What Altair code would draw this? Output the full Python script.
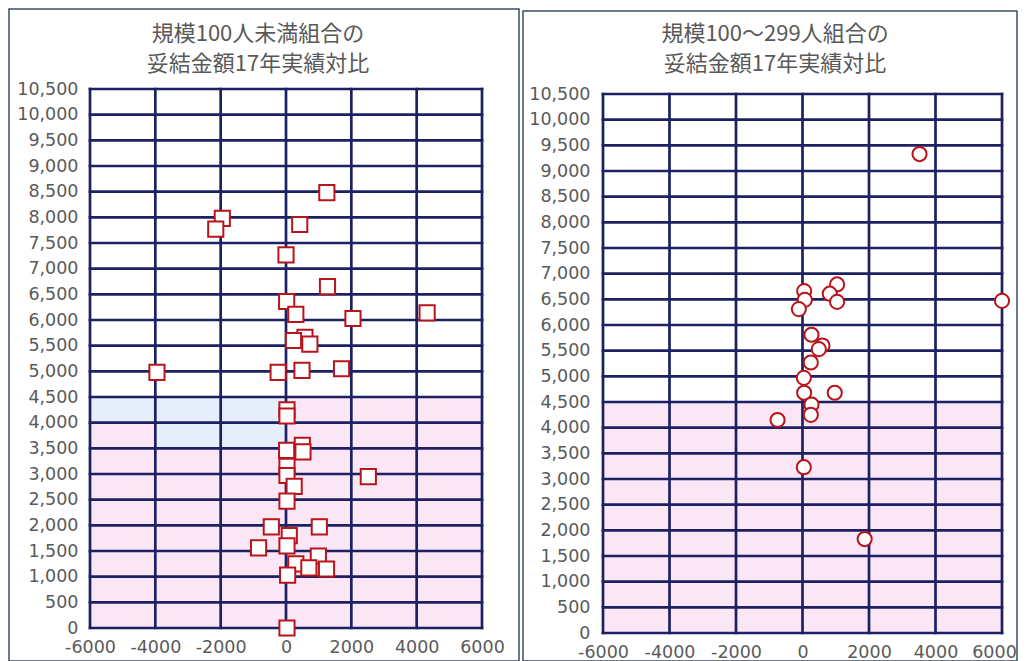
import altair as alt
import pandas as pd

# ---------------- data ----------------
# Left panel: 規模100人未満組合 (squares)
left_x = [1250, -1950, -2150, 420, 0, 1270, 20, 300, 2050, 4320,
          580, 730, 230, -240, 490, 1700, -3950, 30, 30, 20,
          500, 520, 30, 30, 250, 2520, 30, -450, 1020, 100,
          -840, 30, 990, 300, 700, 1240, 50, 30]
left_y = [8480, 7980, 7770, 7860, 7270, 6650, 6360, 6110, 6030, 6140,
          5660, 5530, 5600, 4980, 5020, 5050, 4980, 4250, 4130, 3460,
          3560, 3430, 3150, 2970, 2760, 2950, 2470, 1970, 1970, 1800,
          1560, 1600, 1400, 1250, 1170, 1150, 1030, 0]

# Right panel: 規模100〜299人組合 (circles)
right_x = [3520, 6000, 50, 70, -110, 1040, 820, 1040, 270, 600,
           490, 250, 40, 50, 970, 270, 250, -750, 40, 1870]
right_y = [9330, 6470, 6660, 6490, 6310, 6790, 6610, 6450, 5810, 5600,
           5530, 5270, 4970, 4680, 4680, 4450, 4250, 4150, 3230, 1830]

x_ticks = [-6000, -4000, -2000, 0, 2000, 4000, 6000]
y_ticks = [0, 500, 1000, 1500, 2000, 2500, 3000, 3500, 4000, 4500, 5000,
           5500, 6000, 6500, 7000, 7500, 8000, 8500, 9000, 9500, 10000, 10500]

left_title = ["規模100人未満組合の", "妥結金額17年実績対比"]
right_title = ["規模100〜299人組合の", "妥結金額17年実績対比"]

# shaded bands (x from, x to, y from, y to)
pink_bands = [(-6000, 6000, 0, 4500)]
left_blue_bands = [(-6000, 0, 4000, 4500), (-4000, 0, 3500, 4000)]

GRID = "#1b2163"
LABEL_FONT = "DejaVu Sans"
LABEL_COLOR = "#5a5a5a"


def make_panel(px, py, shape, size, titles, width, height, yrange,
               xlab_pad, ylab_pad, frame, title_x, blue_bands, last_shift):
    xs = alt.Scale(domain=[-6000, 6000], nice=False, zero=False)
    ys = alt.Scale(domain=[0, 10500], range=yrange, nice=False, zero=False)
    xaxis = alt.Axis(
        values=x_ticks, title=None, domain=False, ticks=False, grid=False,
        labelPadding=xlab_pad, labelFont=LABEL_FONT, labelFontSize=17.5,
        labelColor=LABEL_COLOR, labelFlush=False, labelOverlap=False,
        labelOffset={"condition": {"test": "datum.value == 6000",
                                   "value": last_shift}, "value": 0},
        labelExpr="datum.value < 0 ? '-' + format(-datum.value, 'd') : format(datum.value, 'd')")
    yaxis = alt.Axis(
        values=y_ticks, format=",d", title=None, domain=False, ticks=False,
        grid=False, labelPadding=ylab_pad, labelFont=LABEL_FONT,
        labelFontSize=17.5, labelColor=LABEL_COLOR, labelOverlap=False,
        labelFlush=False)

    def bands(rows, color):
        df = pd.DataFrame(rows, columns=["x0", "x1", "y0", "y1"])
        return alt.Chart(df).mark_rect(color=color, strokeWidth=0).encode(
            x=alt.X("x0:Q", scale=xs, axis=xaxis),
            x2="x1:Q",
            y=alt.Y("y0:Q", scale=ys, axis=yaxis),
            y2="y1:Q",
        )

    layers = [bands(pink_bands, "#fbe6f6")]
    if blue_bands:
        layers.append(bands(blue_bands, "#e5eefa"))

    frame_layer = alt.Chart(alt.Data(values=[{"a": 0}])).mark_rect(
        fill="transparent", stroke="#3d4e62", strokeWidth=1.5
    ).encode(
        x=alt.value(frame[0]), x2=alt.value(frame[1]),
        y=alt.value(frame[2]), y2=alt.value(frame[3]),
    )
    layers.append(frame_layer)

    vdf = pd.DataFrame({"gx": x_ticks, "lo": [0] * len(x_ticks),
                        "hi": [10500] * len(x_ticks)})
    hdf = pd.DataFrame({"gy": y_ticks, "lo": [-6000] * len(y_ticks),
                        "hi": [6000] * len(y_ticks)})
    vrules = alt.Chart(vdf).mark_rule(color=GRID, strokeWidth=2.7,
                                      strokeCap="square").encode(
        x=alt.X("gx:Q", scale=xs, axis=xaxis),
        y=alt.Y("lo:Q", scale=ys, axis=yaxis),
        y2="hi:Q",
    )
    hrules = alt.Chart(hdf).mark_rule(color=GRID, strokeWidth=2.7,
                                      strokeCap="square").encode(
        y=alt.Y("gy:Q", scale=ys, axis=yaxis),
        x=alt.X("lo:Q", scale=xs, axis=xaxis),
        x2="hi:Q",
    )
    layers += [vrules, hrules]

    pdf = pd.DataFrame({"x": px, "y": py})
    points = alt.Chart(pdf).mark_point(
        shape=shape, size=size, filled=True, color="white",
        stroke="#b8141c", strokeWidth=2, opacity=1
    ).encode(
        x=alt.X("x:Q", scale=xs, axis=xaxis),
        y=alt.Y("y:Q", scale=ys, axis=yaxis),
    )
    layers.append(points)

    for i, (txt, ty) in enumerate(zip(titles, [-55, -25])):
        t = alt.Chart(alt.Data(values=[{"a": i}])).mark_text(
            text=txt, font="Noto Sans CJK JP", fontSize=22, color="#595959",
            align="center", baseline="middle"
        ).encode(x=alt.value(title_x), y=alt.value(ty))
        layers.append(t)

    return alt.layer(*layers).properties(width=width, height=height)


left = make_panel(left_x, left_y, "square", 230, left_title,
                  392, 544, [539, 0], 5, 12,
                  (-81, 429, -80, 572), 168, left_blue_bands, 0)
right = make_panel(right_x, right_y, "circle", 200, right_title,
                   399, 544, [544, 5], 10, 13,
                   (-80, 414, -78, 572), 172, None, -8)

chart = alt.hconcat(left, right, spacing=121, bounds="flush").properties(
    padding=0
).configure_view(strokeWidth=0)

chart.save("out.html", embed_options={"renderer": "svg", "actions": False})
